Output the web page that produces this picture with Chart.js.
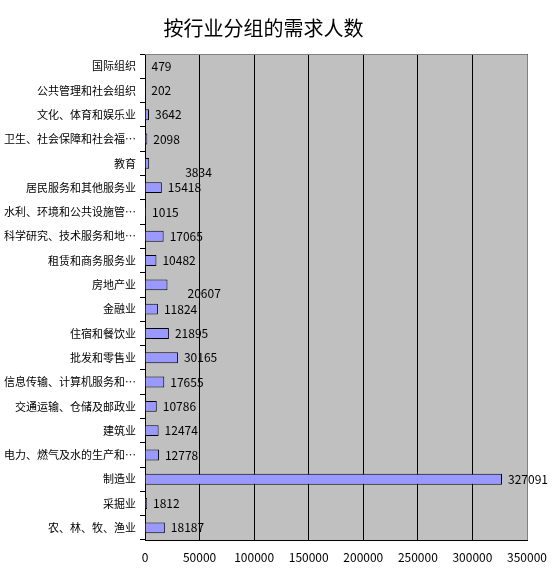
<!DOCTYPE html>
<html>
<head>
<meta charset="utf-8">
<script src="https://cdn.jsdelivr.net/npm/chart.js@4"></script>
<style>
  html, body { margin: 0; padding: 0; background: #fff; }
  #wrap { width: 553px; height: 568px; }
</style>
</head>
<body>
<div id="wrap"><canvas id="myChart"></canvas></div>
<script>
const titleText = '按行业分组的需求人数';

const industries = [
  '国际组织',
  '公共管理和社会组织',
  '文化、体育和娱乐业',
  '卫生、社会保障和社会福…',
  '教育',
  '居民服务和其他服务业',
  '水利、环境和公共设施管…',
  '科学研究、技术服务和地…',
  '租赁和商务服务业',
  '房地产业',
  '金融业',
  '住宿和餐饮业',
  '批发和零售业',
  '信息传输、计算机服务和…',
  '交通运输、仓储及邮政业',
  '建筑业',
  '电力、燃气及水的生产和…',
  '制造业',
  '采掘业',
  '农、林、牧、渔业'
];

const demand = [479, 202, 3642, 2098, 3834, 15418, 1015, 17065, 10482, 20607,
  11824, 21895, 30165, 17655, 10786, 12474, 12778, 327091, 1812, 18187];

const xTicks = [0, 50000, 100000, 150000, 200000, 250000, 300000, 350000];

const font = '"Noto Sans CJK SC", "DejaVu Sans", sans-serif';

// a couple of value labels sit lower in the original
const labelShift = { 4: [30, 9], 9: [14, 9] };

const plotBg = {
  id: 'plotBg',
  beforeDraw(chart) {
    const { ctx, chartArea: a } = chart;
    ctx.save();
    ctx.fillStyle = '#c0c0c0';
    ctx.fillRect(a.left, a.top, a.right - a.left, a.bottom - a.top);
    ctx.restore();
  },
  afterDatasetsDraw(chart) {
    const { ctx, chartArea: a } = chart;
    ctx.save();
    ctx.strokeStyle = '#808080';
    ctx.lineWidth = 1;
    ctx.beginPath();
    ctx.moveTo(a.left, a.top + 0.5);
    ctx.lineTo(a.right + 0.5, a.top + 0.5);
    ctx.lineTo(a.right + 0.5, a.bottom);
    ctx.stroke();

    // value labels
    const meta = chart.getDatasetMeta(0);
    ctx.fillStyle = '#000';
    ctx.font = '12px ' + font;
    ctx.textBaseline = 'middle';
    ctx.textAlign = 'left';
    meta.data.forEach((bar, i) => {
      const s = labelShift[i] || [0, 0];
      ctx.fillText(String(demand[i]), bar.x + 6 + s[0], bar.y + s[1]);
    });
    ctx.restore();
  }
};

new Chart(document.getElementById('myChart'), {
  type: 'bar',
  data: {
    labels: industries,
    datasets: [{
      data: demand,
      backgroundColor: '#9999ff',
      borderColor: '#000',
      borderWidth: 1,
      categoryPercentage: 1,
      barPercentage: 0.45
    }]
  },
  options: {
    indexAxis: 'y',
    responsive: true,
    maintainAspectRatio: false,
    animation: false,
    layout: { padding: { left: 0, right: 26, top: 0, bottom: 0 } },
    plugins: {
      legend: { display: false },
      tooltip: { enabled: false },
      title: {
        display: true,
        text: titleText,
        color: '#000',
        font: { family: font, size: 20, weight: 'normal' },
        padding: { top: 16, bottom: 14 }
      }
    },
    scales: {
      x: {
        min: 0,
        max: 350000,
        afterBuildTicks(scale) { scale.ticks = xTicks.map(v => ({ value: v })); },
        afterFit(scale) {
          scale.height = 28;
          scale.paddingRight = 0;
          scale.paddingLeft = 0;
        },
        grid: { color: '#000', drawTicks: false },
        border: { color: '#000' },
        ticks: {
          color: '#000', padding: 10, maxRotation: 0,
          font: { family: font, size: 12 },
          callback: v => String(v)
        }
      },
      y: {
        afterFit(scale) { scale.width = 145; },
        grid: { offset: true, drawOnChartArea: false, drawTicks: true, tickLength: 5, color: '#000' },
        border: { color: '#000' },
        ticks: { color: '#000', padding: 4, autoSkip: false, font: { family: font, size: 11 } }
      }
    }
  },
  plugins: [plotBg]
});
</script>
</body>
</html>
